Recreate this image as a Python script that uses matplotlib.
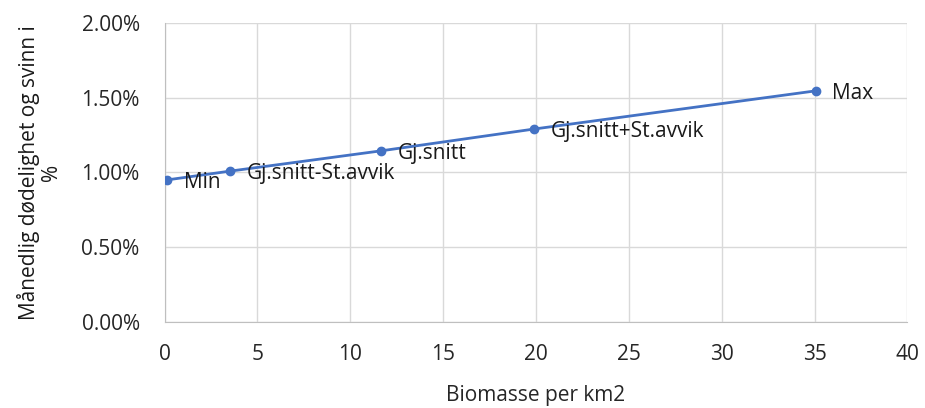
import matplotlib
matplotlib.use("Agg")
import matplotlib.pyplot as plt
from matplotlib.ticker import FuncFormatter

# data
biomasse = [0.15, 3.5, 11.65, 19.9, 35.05]
dodelighet = [0.95, 1.008, 1.144, 1.29, 1.545]  # percent
labels = ["Min", "Gj.snitt-St.avvik", "Gj.snitt", "Gj.snitt+St.avvik", "Max"]

x_ticks = [0, 5, 10, 15, 20, 25, 30, 35, 40]
y_ticks = [0.0, 0.5, 1.0, 1.5, 2.0]

plt.rcParams["font.family"] = ["Open Sans", "DejaVu Sans"]

fig = plt.figure(figsize=(9.25, 4.08), dpi=100)
ax = fig.add_axes([0.178, 0.211, 0.803, 0.733])

color = "#4472C4"
ax.plot(biomasse, dodelighet, color=color, lw=2, marker="o", ms=6, zorder=3)
for x, y, lab in zip(biomasse, dodelighet, labels):
    ax.annotate(lab, (x, y), xytext=(12, -2), textcoords="offset points",
                ha="left", va="center", fontsize=15, color="#1a1a1a")

ax.set_xlim(0, 40)
ax.set_ylim(0, 2.0)
ax.set_xticks(x_ticks)
ax.set_yticks(y_ticks)
ax.yaxis.set_major_formatter(FuncFormatter(lambda v, p: f"{v:.2f}%"))
ax.grid(True, color="#d9d9d9", lw=1)
ax.set_axisbelow(True)
for s in ["top", "right"]:
    ax.spines[s].set_visible(False)
for s in ["left", "bottom"]:
    ax.spines[s].set_color("#bfbfbf")
ax.tick_params(length=0, labelsize=15, colors="#262626")
ax.tick_params(axis="y", pad=18)
ax.tick_params(axis="x", pad=16)

ax.set_xlabel("Biomasse per km2", fontsize=15, color="#262626", labelpad=14)
ax.set_ylabel("Månedlig dødelighet og svinn i\n%", fontsize=15, color="#1a1a1a",
              labelpad=14, linespacing=1.05)

fig.savefig("out.png", dpi=100)
